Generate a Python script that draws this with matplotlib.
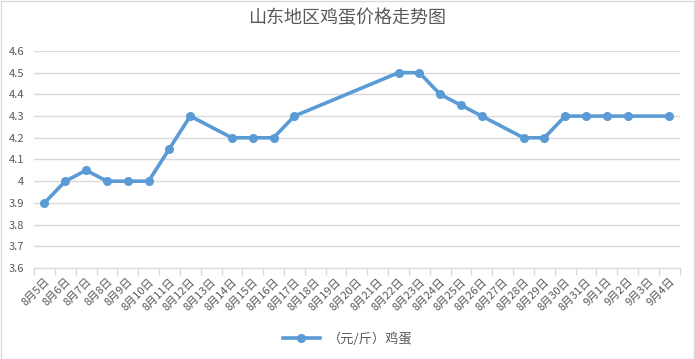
import numpy as np
import matplotlib.pyplot as plt
from matplotlib.lines import Line2D

plt.rcParams['font.family'] = ['Noto Sans CJK SC', 'DejaVu Sans']

dates = ['8月5日', '8月6日', '8月7日', '8月8日', '8月9日', '8月10日', '8月11日',
         '8月12日', '8月13日', '8月14日', '8月15日', '8月16日', '8月17日', '8月18日',
         '8月19日', '8月20日', '8月21日', '8月22日', '8月23日', '8月24日', '8月25日',
         '8月26日', '8月27日', '8月28日', '8月29日', '8月30日', '8月31日', '9月1日',
         '9月2日', '9月3日', '9月4日']
price = [3.9, 4.0, 4.05, 4.0, 4.0, 4.0, 4.15,
         4.3, np.nan, 4.2, 4.2, 4.2, 4.3, np.nan,
         np.nan, np.nan, np.nan, 4.5, 4.5, 4.4, 4.35,
         4.3, np.nan, 4.2, 4.2, 4.3, 4.3, 4.3,
         4.3, np.nan, 4.3]
series_name = '（元/斤）鸡蛋'

blue = '#5B9BD5'
grid = '#D9D9D9'
txt = '#595959'

x = np.arange(len(dates))
y = np.array(price)
ok = ~np.isnan(y)

fig = plt.figure(figsize=(6.95, 3.59), dpi=100)
fig.patches.append(plt.Rectangle((0.001, 0.001), 0.998, 0.997, transform=fig.transFigure,
                                 fill=False, edgecolor=grid, linewidth=1))
ax = fig.add_axes([0.049, 0.2535, 0.929, 0.6045])

ax.plot(x[ok], y[ok], color=blue, linewidth=2.6, marker='o', markersize=5.5,
        solid_capstyle='round', zorder=3)

ax.set_xlim(-0.5, len(dates) - 0.5)
ax.set_ylim(3.6, 4.6)
ax.set_yticks(np.arange(3.6, 4.61, 0.1))
ax.set_yticklabels(['3.6', '3.7', '3.8', '3.9', '4', '4.1', '4.2', '4.3', '4.4', '4.5', '4.6'])
ax.yaxis.grid(True, color=grid, linewidth=1)
ax.set_axisbelow(True)
ax.tick_params(axis='y', length=0, labelsize=8, labelcolor=txt, pad=7)

ax.set_xticks(x)
ax.set_xticklabels(dates, rotation=45, ha='right', rotation_mode='anchor')
ax.tick_params(axis='x', which='major', length=0, labelsize=8, labelcolor=txt, pad=6)
ax.set_xticks(np.arange(-0.5, len(dates), 1), minor=True)
ax.tick_params(axis='x', which='minor', length=5, color=grid, width=1)

for s in ['top', 'right', 'left']:
    ax.spines[s].set_visible(False)
ax.spines['bottom'].set_color(grid)

fig.suptitle('山东地区鸡蛋价格走势图', x=0.5, y=0.975, fontsize=13, color=txt)

handle = Line2D([], [], color=blue, linewidth=2.6, marker='o', markersize=5.5)
fig.legend([handle], [series_name], loc='center', bbox_to_anchor=(0.5, 0.055),
           frameon=False, fontsize=9.5, labelcolor=txt, handlelength=2.8,
           handletextpad=0.6)

fig.savefig('out.png', dpi=100)
